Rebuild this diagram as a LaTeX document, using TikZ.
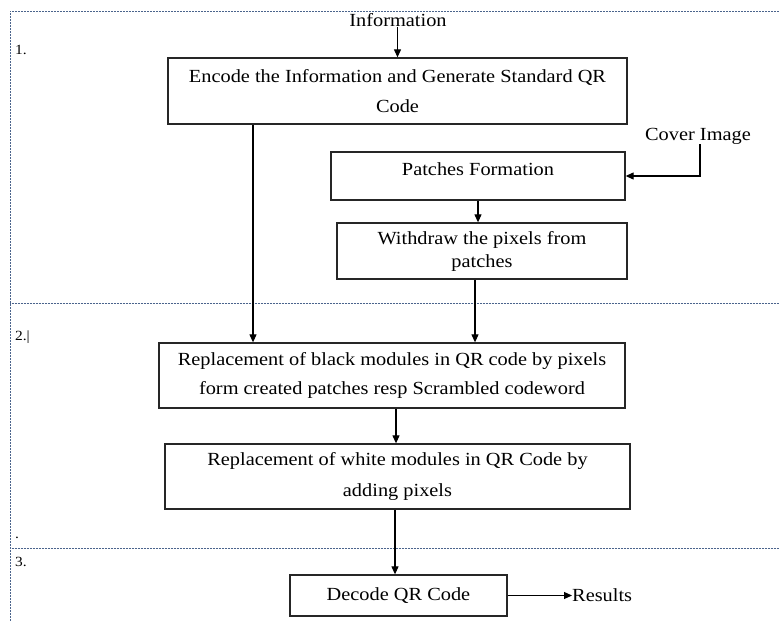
\documentclass[tikz,border=0pt]{standalone}
\usepackage{fontspec}
\setmainfont{Liberation Serif}[FakeStretch=1.1]
\usetikzlibrary{arrows.meta}
\begin{document}
\begin{tikzpicture}[x=1pt,y=-1pt,
  box/.style={draw=black!85, line width=1.3pt, align=center, inner sep=0pt, font=\fontsize{18.5}{30}\selectfont},
  lbl/.style={font=\fontsize{18.5}{22}\selectfont, inner sep=0pt},
  num/.style={font=\fontsize{14}{16}\selectfont, inner sep=0pt, anchor=west},
  arr/.style={draw=black, line width=1.1pt, -{Triangle[length=8pt,width=7pt]}},
  sect/.style={draw={rgb,255:red,75;green,100;blue,140}, line width=0.9pt, dash pattern=on 0.8pt off 0.7pt}]
\useasboundingbox (0,0) rectangle (779,621);
% section frame
\draw[sect] (779,11) -- (10,11) -- (10,621);
\draw[sect] (10,303) -- (779,303);
\draw[sect] (10,548) -- (779,548);
\node[num] (n1) at (15,50) {1.};
\node[num] (n2) at (15,337) {2.|};
\node[num] (ndot) at (15,538) {.};
\node[num] (n3) at (15,562) {3.};
% nodes
\node[lbl] (info) at (398,20) {Information};
\node[box, minimum width=459pt, minimum height=66pt] (enc) at (397.5,91) {Encode the Information and Generate Standard QR\\Code};
\node[lbl] (cover) at (698,136) {Cover Image};
\node[box, minimum width=294pt, minimum height=48pt, text height=12.5pt, text depth=14pt] (pf) at (478,176) {Patches Formation};
\node[box, minimum width=290pt, minimum height=56pt, font=\fontsize{18.5}{23}\selectfont] (wd) at (482,251) {Withdraw the pixels from\\patches};
\node[box, minimum width=466pt, minimum height=65pt, font=\fontsize{18.5}{29}\selectfont] (repb) at (392,375.5) {Replacement of black modules in QR code by pixels\\form created patches resp Scrambled codeword};
\node[box, minimum width=465pt, minimum height=65pt, font=\fontsize{18.5}{31}\selectfont] (repw) at (397.5,476.5) {Replacement of white modules in QR Code by\\adding pixels};
\node[box, minimum width=217pt, minimum height=41pt] (dec) at (398.5,595.5) {Decode QR Code};
\node[lbl, anchor=west] (res) at (572,595.5) {Results};
% helper coordinates
\coordinate (xl) at (253,0);
\coordinate (xr) at (475,0);
\coordinate (xm) at (396,0);
\coordinate (xd) at (395,0);
\coordinate (cv) at (700,176);
% connectors
\draw[arr] (info.south -| enc.north) -- (enc.north);
\draw[arr] (xl |- enc.south) -- (xl |- repb.north);
\draw[arr] (cover.south -| cv) -- (cv) -- (pf.east |- cv);
\draw[arr] (pf.south) -- (pf.south |- wd.north);
\draw[arr] (xr |- wd.south) -- (xr |- repb.north);
\draw[arr] (xm |- repb.south) -- (xm |- repw.north);
\draw[arr] (xd |- repw.south) -- (xd |- dec.north);
\draw[arr] (dec.east) -- (dec.east -| res.west);
\end{tikzpicture}
\end{document}
